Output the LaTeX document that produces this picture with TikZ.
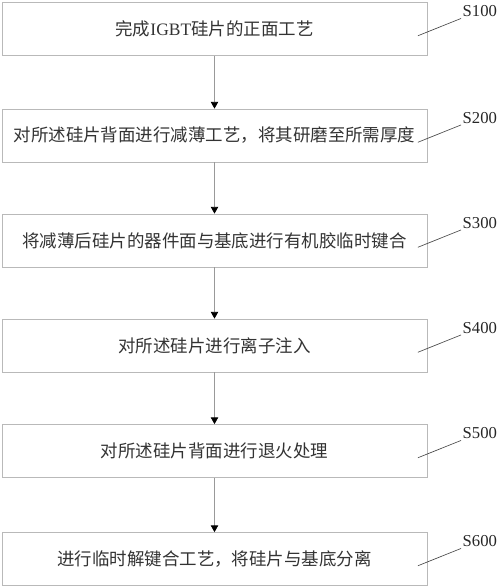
\documentclass[tikz,border=0pt]{standalone}
\usepackage{fontspec}
\setmainfont{Liberation Serif}
\newfontfamily\cjk{Noto Sans CJK SC}
\usetikzlibrary{arrows.meta}

\begin{document}
\begin{tikzpicture}[x=0.75pt, y=-0.75pt,
  stepbox/.style={draw=gray!55, fill=white, line width=0.6pt, minimum width=318.75pt,
    minimum height=39.75pt, inner sep=0pt, text=black!80,
    font=\cjk\fontsize{13.1}{15}\selectfont},
  steplabel/.style={inner sep=0pt, text=black!85, font=\fontsize{12.5}{15}\selectfont},
  leader/.style={draw=black!70, line width=0.5pt},
  flow/.style={draw=gray!80, line width=0.6pt, -{Triangle[black, length=5pt, width=5.5pt]}}]

\useasboundingbox (0,0) rectangle (500,587);

% Step boxes
\foreach \i/\y/\txt in {1/29/{完成{\rmfamily IGBT}硅片的正面工艺},
    2/135.5/{对所述硅片背面进行减薄工艺，将其研磨至所需厚度},
    3/240.5/{将减薄后硅片的器件面与基底进行有机胶临时键合},
    4/345.5/{对所述硅片进行离子注入},
    5/451/{对所述硅片背面进行退火处理},
    6/559/{进行临时解键合工艺，将硅片与基底分离}} {
  \node[stepbox] (s\i) at (214.5,\y) {\txt};
}

% Step numbers with leader lines
\foreach \i in {1,...,6} {
  \coordinate (c\i) at ([xshift=-9.5*0.75pt, yshift=-6.75*0.75pt]s\i.east);
  \node[steplabel, anchor=south west] (l\i) at ([xshift=35*0.75pt, yshift=-15*0.75pt]s\i.north east) {S\i00};
  \draw[leader] (c\i) -- ([xshift=-1pt, yshift=-1pt]l\i.south west);
}

% Arrows between steps
\foreach \i/\j in {1/2, 2/3, 3/4, 4/5, 5/6}
  \draw[flow] (s\i.south) -- (s\j.north);

\end{tikzpicture}
\end{document}
